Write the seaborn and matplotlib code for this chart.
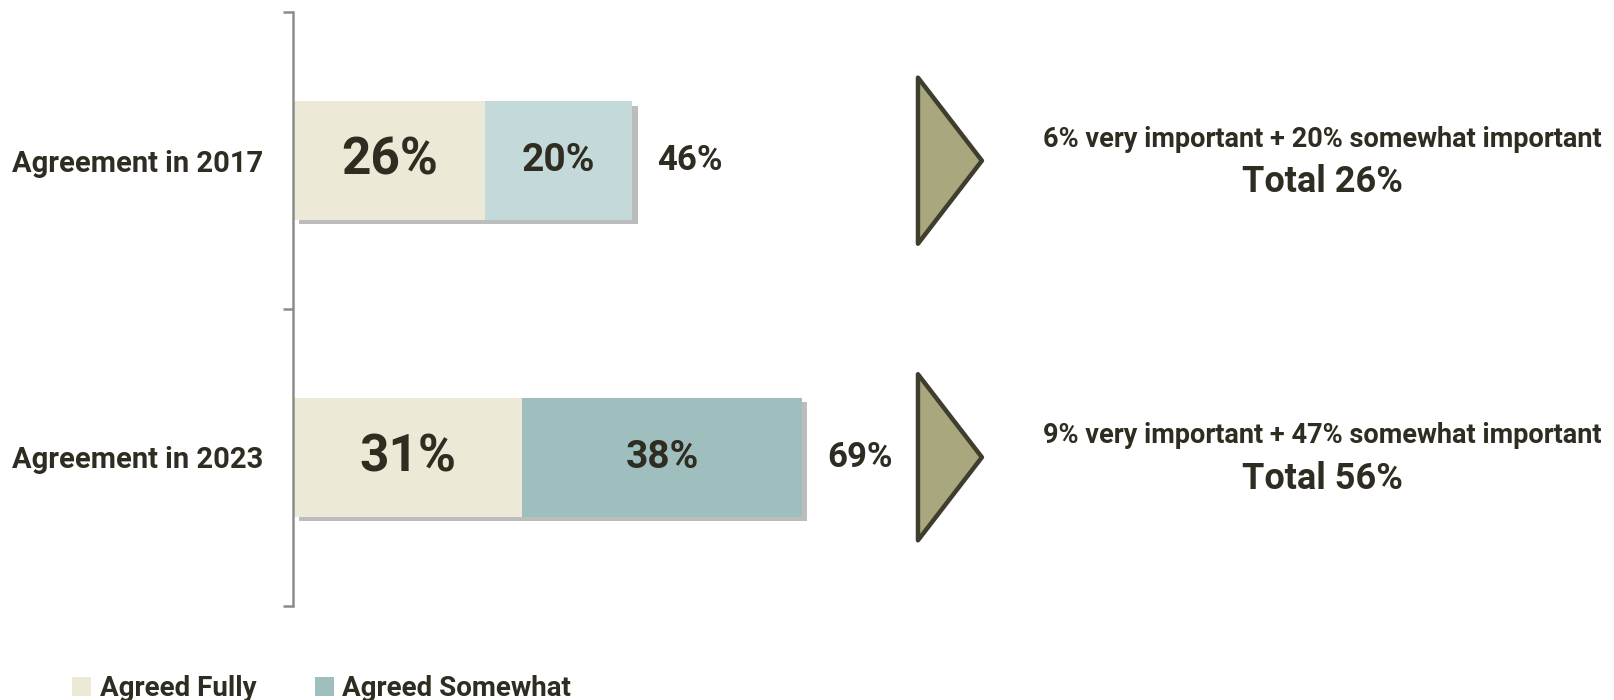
import numpy as np
import pandas as pd
import matplotlib
matplotlib.use('Agg')
import matplotlib.pyplot as plt
import matplotlib.patheffects as pe
from matplotlib.patches import Patch, Polygon
import matplotlib.transforms as mtransforms
import seaborn as sns

# data
categories = ['Agreement in 2017', 'Agreement in 2023']
agreed_fully = [26, 31]
agreed_somewhat = [20, 38]
totals = [46, 69]
importance_lines = ['6% very important + 20% somewhat important',
                    '9% very important + 47% somewhat important']
importance_totals = ['Total 26%', 'Total 56%']
legend_labels = ['Agreed Fully', 'Agreed Somewhat']

c_fully = '#ECE9D6'
c_somewhat = ['#C4D9D9', '#9EBFBE']
c_text = '#2F2C22'

sns.set_theme(style='white')
plt.rcParams['font.family'] = ['Roboto', 'DejaVu Sans']
plt.rcParams['font.weight'] = 'bold'

df = pd.DataFrame({'cat': categories, 'fully': agreed_fully,
                   'somewhat': agreed_somewhat, 'total': totals})

fig = plt.figure(figsize=(16.15, 7.0), dpi=100)
ax = fig.add_axes([0.1817, 0.1349, 0.4563, 0.8474])

# total bar (somewhat colour) underneath, then fully on top
sns.barplot(data=df, x='total', y='cat', hue='cat', palette=c_somewhat,
            legend=False, width=0.4, linewidth=0, ax=ax, saturation=1)
for p in ax.patches:
    p.set_path_effects([pe.SimplePatchShadow(offset=(4, -3), shadow_rgbFace='#7a7a7a', alpha=0.5),
                        pe.Normal()])
sns.barplot(data=df, x='fully', y='cat', color=c_fully, width=0.4,
            linewidth=0, ax=ax, saturation=1)

ax.set_xlim(0, 100)
ax.set_ylim(1.5, -0.5)
ax.set_xlabel('')
ax.set_ylabel('')
sns.despine(ax=ax, top=True, right=True, bottom=True, left=False)
ax.spines['left'].set_color('#8C8C8C')
ax.spines['left'].set_linewidth(1.8)
ax.set_xticks([])
ax.set_yticks([-0.5, 0.5, 1.5], minor=True)
ax.tick_params(axis='y', which='minor', length=7, width=1.8, color='#8C8C8C', left=True)
ax.tick_params(axis='y', which='major', length=0, pad=22, labelsize=21, labelcolor=c_text)
for lab in ax.get_yticklabels():
    lab.set_fontweight('bold')

# value labels
for i in range(len(categories)):
    ax.text(agreed_fully[i] / 2, i, f'{agreed_fully[i]}%', ha='center', va='center',
            fontsize=37, fontweight='bold', color=c_text)
    ax.text(agreed_fully[i] + agreed_somewhat[i] / 2, i, f'{agreed_somewhat[i]}%',
            ha='center', va='center', fontsize=28, fontweight='bold', color=c_text)
    ax.annotate(f'{totals[i]}%', (totals[i], i), xytext=(18, 0), textcoords='offset points',
                ha='left', va='center', fontsize=25, fontweight='bold', color=c_text)

# arrows and notes on the right
blend = mtransforms.blended_transform_factory(fig.transFigure, ax.transData)
for i in range(len(categories)):
    tri = Polygon([[0.5684, i - 0.28], [0.5684, i + 0.28], [0.608, i]], closed=True,
                  transform=blend, facecolor='#A9A77E', edgecolor='#3F3D2E',
                  linewidth=3.2, joinstyle='round', clip_on=False)
    fig.add_artist(tri)
    ax.text(0.819, i - 0.072, importance_lines[i], transform=blend, ha='center', va='center',
            fontsize=19.5, fontweight='bold', color=c_text, clip_on=False)
    ax.text(0.819, i + 0.072, importance_totals[i], transform=blend, ha='center', va='center',
            fontsize=26, fontweight='bold', color=c_text, clip_on=False)

handles = [Patch(facecolor=c_fully, edgecolor='none'),
           Patch(facecolor=c_somewhat[1], edgecolor='none')]
leg = fig.legend(handles, legend_labels, loc='center left', bbox_to_anchor=(0.029, 0.016),
                 ncol=2, frameon=False, handlelength=0.7, handleheight=0.7,
                 handletextpad=0.3, columnspacing=2.1, prop={'size': 20, 'weight': 'bold'})
for t in leg.get_texts():
    t.set_color(c_text)

fig.savefig('out.png', dpi=100)
